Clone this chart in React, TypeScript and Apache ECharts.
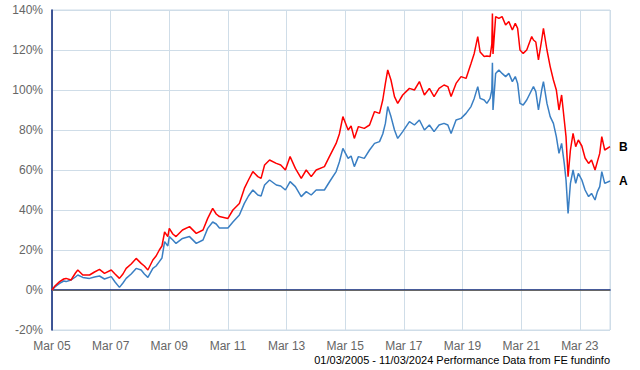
import React, { useEffect, useRef } from "react";
import * as echarts from "echarts";

// time in years since 01/03/2005
const years = [
  0, 0.1, 0.26, 0.4, 0.48, 0.65, 0.8, 0.88, 1.05, 1.28, 1.45, 1.62, 1.79, 2.02, 2.15, 2.3, 2.42, 2.53, 2.7, 2.87,
  3.04, 3.15, 3.27, 3.44, 3.55, 3.66, 3.75, 3.84, 3.95, 4.0, 4.12, 4.23, 4.45, 4.69, 4.92, 5.15, 5.31, 5.48, 5.6, 5.71,
  6.0, 6.17, 6.39, 6.56, 6.7, 6.85, 7.02, 7.13, 7.25, 7.42, 7.65, 7.8, 7.96, 8.12, 8.3, 8.5, 8.67, 8.84, 9.01, 9.29,
  9.46, 9.69, 9.8, 9.92, 10.1, 10.2, 10.31, 10.45, 10.65, 10.83, 11.0, 11.17, 11.28, 11.37, 11.45, 11.56, 11.68, 11.79, 11.96, 12.19,
  12.36, 12.53, 12.7, 12.87, 13.03, 13.2, 13.37, 13.5, 13.61, 13.78, 13.95, 14.12, 14.29, 14.4, 14.52, 14.6, 14.74, 14.83, 14.94, 15.0,
  15.02, 15.04, 15.13, 15.24, 15.35, 15.47, 15.58, 15.7, 15.8, 15.88, 15.96, 16.07, 16.19, 16.36, 16.42, 16.5, 16.59, 16.7, 16.76, 16.88,
  16.99, 17.1, 17.2, 17.29, 17.38, 17.47, 17.53, 17.6, 17.68, 17.77, 17.86, 17.95, 18.07, 18.18, 18.3, 18.4, 18.52, 18.6, 18.68, 18.75,
  18.85, 19.03,
];

const fundA = [
  0, 1.5, 3.3, 4.5, 4.2, 5, 6.5, 7.5, 6.3, 5.8, 6.5, 7, 5.5, 6.7, 4, 1.3, 3.5, 5.8, 8, 10.8,
  10, 8, 6.3, 10.8, 12, 14.2, 16, 24.2, 22, 26.7, 25, 23.3, 25.8, 26.7, 23.3, 25, 30.8, 34, 33, 31,
  31, 34, 37.5, 43.3, 47, 50, 47.5, 47, 52.5, 55, 52.5, 52, 50, 54.2, 51.7, 46.7, 49.2, 47.5, 50, 50,
  54, 59.2, 64, 70.8, 65.8, 67, 61.7, 66.7, 65.8, 70, 73.3, 74.2, 78, 83.3, 91.7, 86.7, 80, 75.8, 79.2, 84.2,
  82.5, 85, 80, 82.5, 79.2, 82.5, 83.3, 82.5, 78.3, 85, 85.8, 88.3, 91.7, 95.8, 101.7, 95.8, 95, 93.3, 95.8, 100,
  113.6, 90, 108.3, 110, 108.3, 106.7, 108.3, 104.2, 106.7, 103.3, 93.3, 92.5, 95, 100, 101.7, 99.2, 90, 100, 104.2, 93.3,
  86.7, 83.3, 76.7, 68.3, 73.3, 63.3, 55, 38.3, 53.3, 60, 53.3, 58.3, 55, 50, 46.7, 48.3, 45, 49.2, 51.7, 59.2,
  53.3, 54.5,
];

const fundB = [
  0, 2, 4.2, 5.5, 5.8, 5, 8.5, 10, 7.5, 7.5, 9, 10.3, 8.3, 10, 8, 5.8, 8, 10.8, 13, 15.8,
  13.3, 12, 10, 15, 17, 20, 22, 29, 26.7, 30.8, 28, 26.7, 30, 31.7, 28.3, 30, 35.8, 40.8, 38, 36.7,
  35.8, 40, 43.3, 50.8, 55, 59.2, 56.7, 55.8, 62.5, 65, 63.3, 62.5, 60, 66.7, 60.8, 55.8, 60, 56.7, 60, 61.7,
  66.7, 73.3, 78, 86.7, 80, 82, 75.8, 81.7, 80.8, 82.5, 89.2, 88.3, 95, 103.3, 110, 105, 96.7, 93.3, 97.5, 100.8,
  100, 104.2, 97.5, 100.8, 96.7, 100.8, 102.5, 101.7, 96.7, 103.3, 106.7, 105.8, 113.3, 118.3, 126.7, 119, 116.7, 117, 116.7, 123,
  138.3, 118, 136.7, 135.8, 136.7, 132.5, 134.2, 130, 133.3, 130.8, 120, 118.3, 120, 126.7, 125, 124, 115, 125, 130.8, 120,
  111.7, 105, 100, 90, 97.5, 85, 76.7, 56.7, 70, 78.3, 71.7, 75, 72, 66, 63.3, 65, 60, 64.2, 68.3, 76.7,
  70, 71.7,
];

const xTickLabels = ["Mar 05", "Mar 07", "Mar 09", "Mar 11", "Mar 13", "Mar 15", "Mar 17", "Mar 19", "Mar 21", "Mar 23"];
const seriesNames = ["A", "B"];
const footerText = "01/03/2005 - 11/03/2024 Performance Data from FE fundinfo";

export default function App() {
  const ref = useRef<HTMLDivElement>(null);
  useEffect(() => {
    if (!ref.current) return;
    const chart = echarts.init(ref.current, null, { renderer: "svg" });
    const gridColor = "#cfdde8";
    const font = "'Liberation Sans', Arial, sans-serif";
    const mk = (vals: number[]) => years.map((t, i) => [t, vals[i]]);
    chart.setOption({
      animation: false,
      backgroundColor: "#ffffff",
      textStyle: { fontFamily: font },
      grid: {
        left: 52,
        right: 30,
        top: 10,
        bottom: 40,
        show: true,
        borderColor: gridColor,
        borderWidth: 1,
        containLabel: false,
      },
      xAxis: {
        type: "value",
        min: 0,
        max: 19.03,
        interval: 2,
        axisLine: { show: true, lineStyle: { color: "#0a2478", width: 1.5 } },
        axisTick: { show: false },
        axisLabel: {
          margin: 10,
          color: "#666666",
          fontSize: 12,
          fontFamily: font,
          formatter: (v: number) => {
            const idx = Math.round(v / 2);
            if (Math.abs(v - idx * 2) > 1e-6) return "";
            return xTickLabels[idx] ?? "";
          },
        },
        splitLine: { show: true, lineStyle: { color: gridColor, width: 1 } },
      },
      yAxis: {
        type: "value",
        min: -20,
        max: 140,
        interval: 20,
        axisLine: { show: true, lineStyle: { color: "#0a2478", width: 1.5 } },
        axisTick: { show: false },
        axisLabel: {
          margin: 9,
          color: "#666666",
          fontSize: 12,
          fontFamily: font,
          formatter: (v: number) => `${v}%`,
        },
        splitLine: { show: true, lineStyle: { color: gridColor, width: 1 } },
      },
      series: [
        {
          name: seriesNames[0],
          type: "line",
          data: mk(fundA),
          showSymbol: false,
          symbol: "none",
          lineStyle: { color: "#3a7fc3", width: 1.5 },
          itemStyle: { color: "#3a7fc3" },
          z: 3,
          endLabel: {
            show: true,
            formatter: seriesNames[0],
            color: "#000",
            fontWeight: "bold",
            fontSize: 12,
            fontFamily: font,
            distance: 9,
          },
          markLine: {
            silent: true,
            symbol: "none",
            label: { show: false },
            lineStyle: { color: "#666666", type: "solid", width: 1 },
            data: [{ yAxis: 0 }],
            z: 1,
          },
        },
        {
          name: seriesNames[1],
          type: "line",
          data: mk(fundB),
          showSymbol: false,
          symbol: "none",
          lineStyle: { color: "#ff0000", width: 1.5 },
          itemStyle: { color: "#ff0000" },
          z: 4,
          endLabel: {
            show: true,
            formatter: seriesNames[1],
            color: "#000",
            fontWeight: "bold",
            fontSize: 12,
            fontFamily: font,
            distance: 9,
          },
        },
      ],
      graphic: [
        {
          type: "text",
          right: 30,
          top: 354,
          style: {
            text: footerText,
            fill: "#000",
            fontSize: 11,
            fontFamily: font,
          },
        },
      ],
    });
    return () => chart.dispose();
  }, []);
  return (
    <div
      ref={ref}
      style={{ position: "fixed", left: 0, top: 0, width: 640, height: 370, background: "#fff" }}
    />
  );
}
